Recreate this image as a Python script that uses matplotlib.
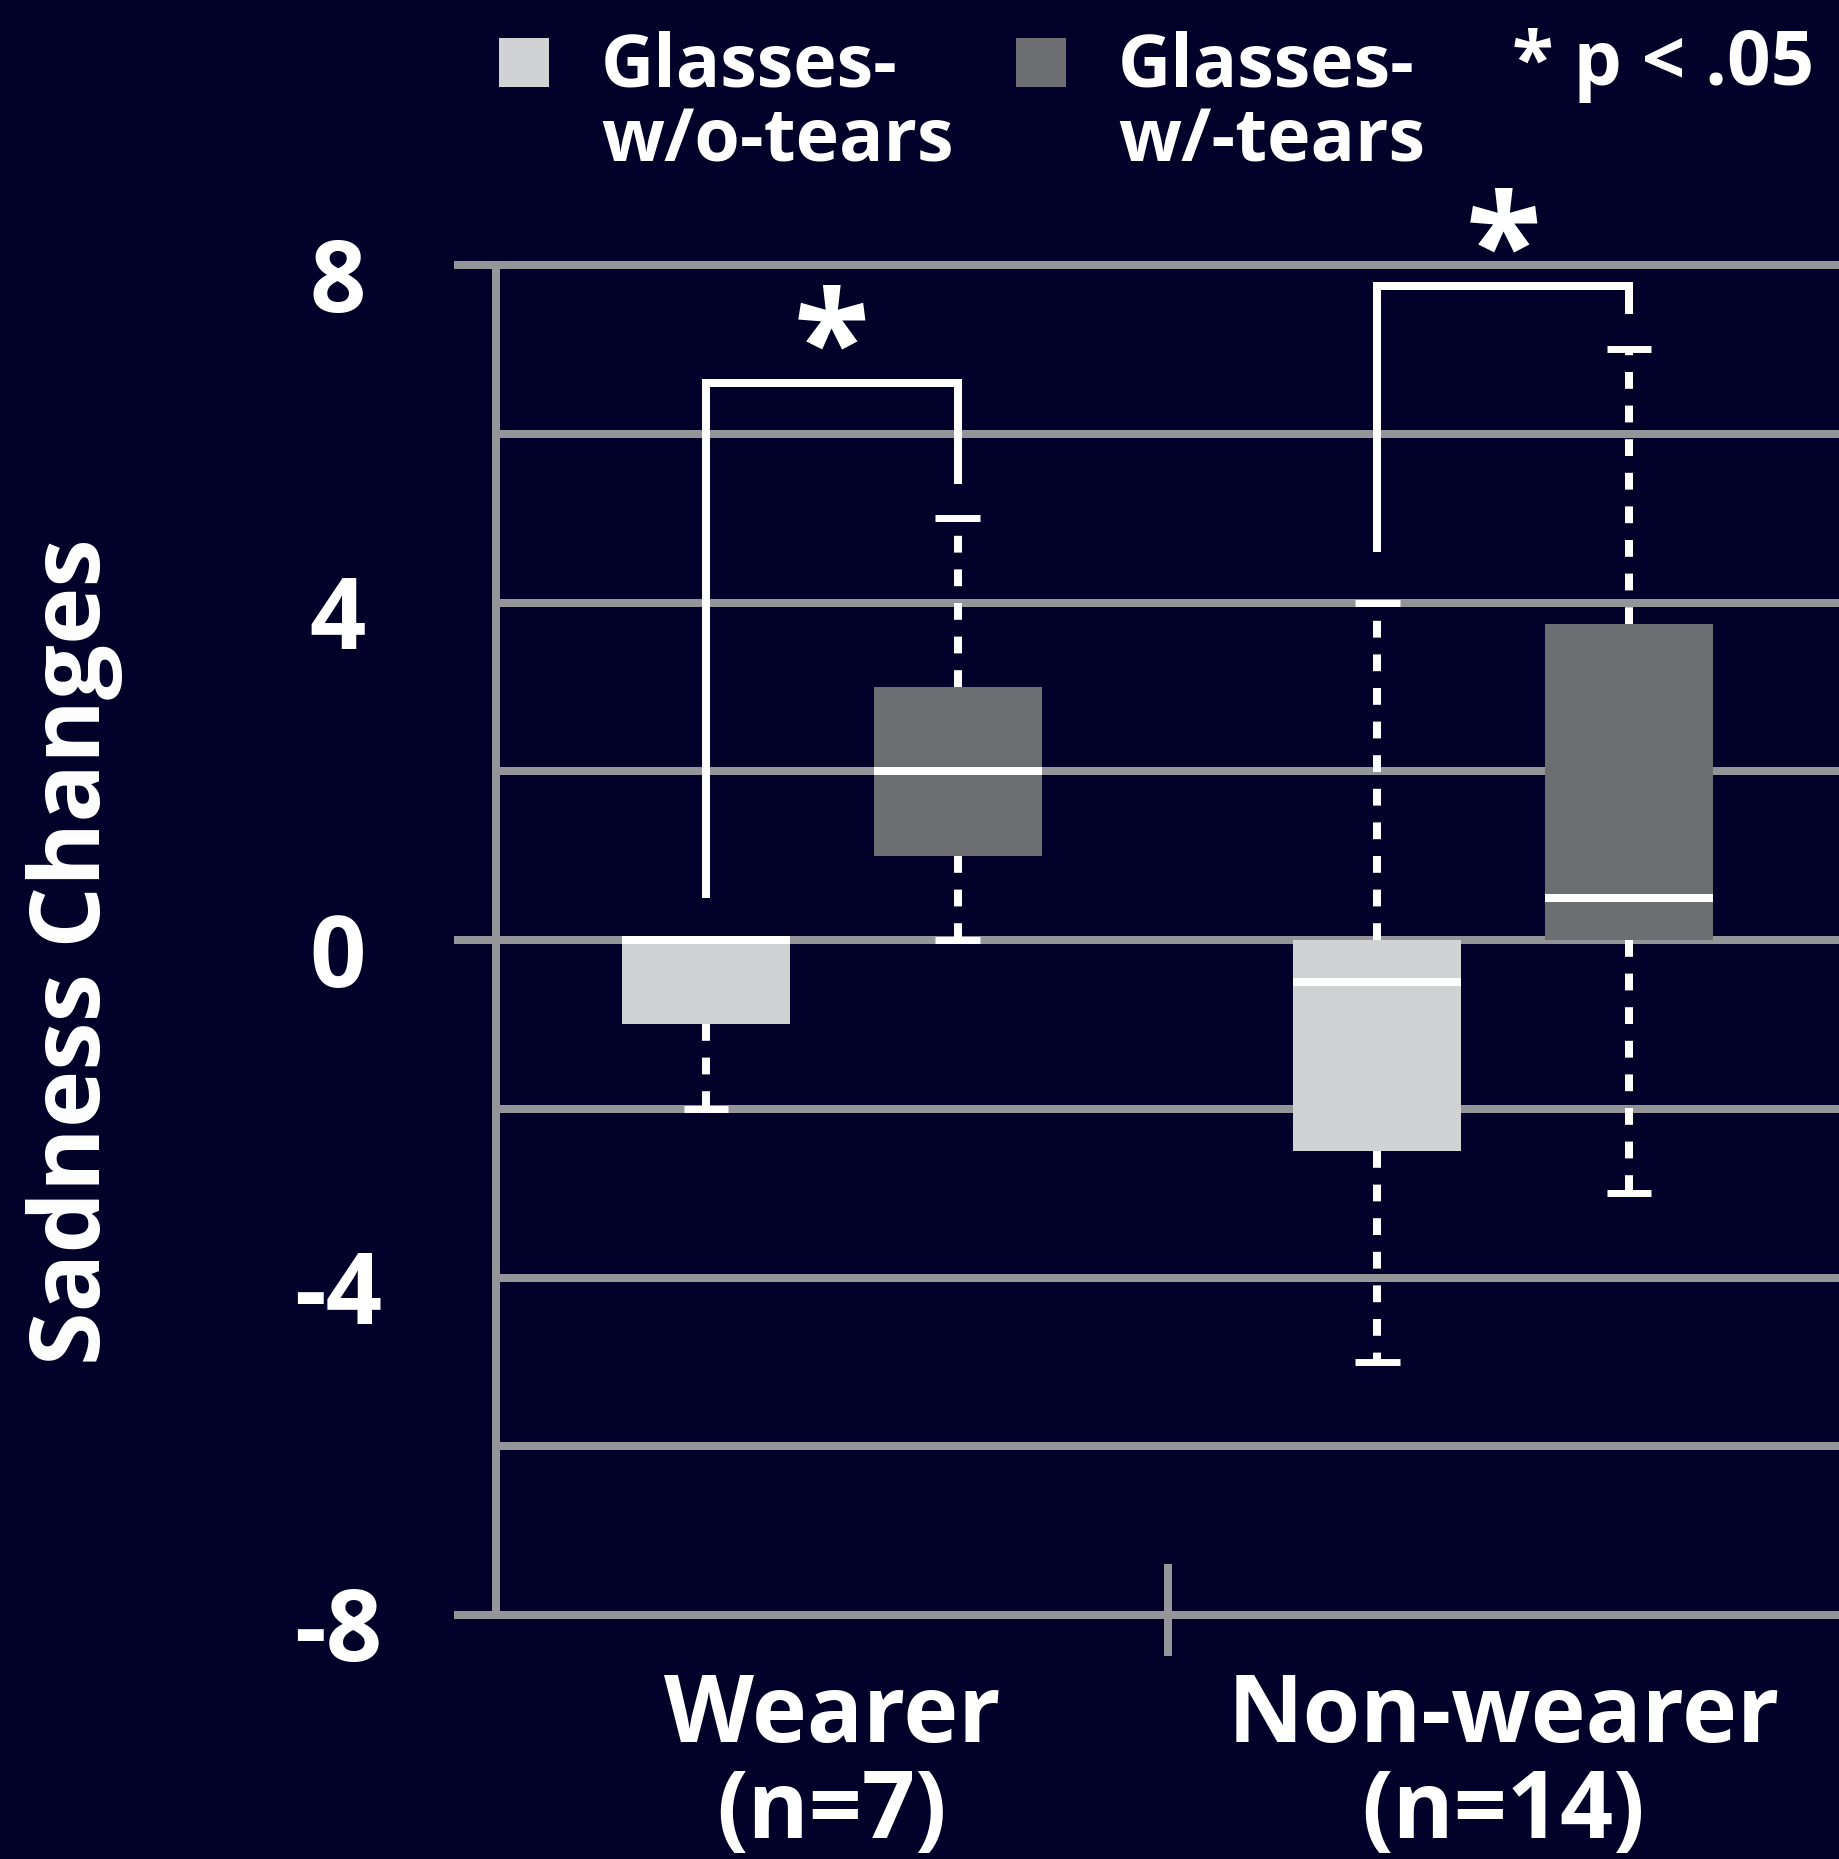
import matplotlib
matplotlib.use("Agg")
import matplotlib.pyplot as plt
import matplotlib.transforms as mtransforms
from matplotlib.patches import Rectangle
import numpy as np

plt.rcParams['font.family'] = ['Open Sans', 'DejaVu Sans']
plt.rcParams['font.weight'] = 'bold'

BG = '#010129'
GRID = '#939598'
LIGHT = '#d1d2d4'
DARK = '#6d6e71'

# data
groups = ["Wearer\n(n=7)", "Non-wearer\n(n=14)"]
series = ["Glasses-\nw/o-tears", "Glasses-\nw/-tears"]
q1 = [[-1.0, 1.0], [-2.5, 0.0]]
med = [[0.0, 2.0], [-0.5, 0.5]]
q3 = [[0.0, 3.0], [0.0, 3.75]]
whislo = [[-2.0, 0.0], [-5.0, -3.0]]
whishi = [[0.0, 5.0], [4.0, 7.0]]
# significance brackets: (left leg bottom, top, right leg bottom, star y)
brackets = [(0.5, 6.6, 5.4, 6.95), (4.6, 7.75, 7.42, 8.1)]
yticks = [8, 4, 0, -4, -8]
ygrid = [8, 6, 4, 2, 0, -2, -4, -6, -8]

W, H = 1839, 1859
fig = plt.figure(figsize=(W / 100, H / 100), dpi=100, facecolor=BG)
ax = fig.add_axes([496 / W, 1 - 1615 / H, (W - 496) / W, (1615 - 265) / H])
ax.set_facecolor(BG)
ax.set_xlim(0, 2)
ax.set_ylim(-8, 8)

lw = 5.76  # 8 px
for v in ygrid:
    ax.axhline(v, color=GRID, lw=lw, zorder=0.5, clip_on=False)

for s in ['top', 'right', 'bottom']:
    ax.spines[s].set_visible(False)
ax.spines['left'].set_color(GRID)
ax.spines['left'].set_linewidth(lw)

ax.yaxis.remove_overlapping_locs = False
ax.set_yticks(yticks)
ax.set_yticklabels([str(t) for t in yticks])
ax.set_yticks([8, 0, -8], minor=True)
ax.tick_params(axis='y', which='major', length=0, pad=114, labelsize=71,
               labelcolor='white')
ax.tick_params(axis='y', which='minor', length=30, width=lw, color=GRID,
               direction='out')
shift = mtransforms.ScaledTranslation(0, -9 / 100, fig.dpi_scale_trans)
for lab in ax.get_yticklabels():
    lab.set_horizontalalignment('center')
    lab.set_transform(lab.get_transform() + shift)

centers = np.array([0.5, 1.5])
offset = 0.1875
ax.set_xticks(centers)
ax.set_xticklabels(groups, linespacing=1.05)
ax.tick_params(axis='x', length=0, pad=40, labelsize=67, labelcolor='white')
# group divider
ax.axvline(1, ymin=-0.0274, ymax=0.0348, color=GRID, lw=lw, clip_on=False)

colors = [LIGHT, DARK]
dash = (0, (2.1, 2.1))
for gi, c in enumerate(centers):
    for si in range(2):
        st = dict(q1=q1[gi][si], med=med[gi][si], q3=q3[gi][si],
                  whislo=whislo[gi][si], whishi=whishi[gi][si], fliers=[])
        pos = c + (2 * si - 1) * offset
        ax.bxp([st], positions=[pos], widths=0.25, capwidths=0.066,
               patch_artist=True, showfliers=False, manage_ticks=False,
               boxprops=dict(facecolor=colors[si], edgecolor='none', lw=0),
               medianprops=dict(color='white', lw=lw, solid_capstyle='butt'),
               whiskerprops=dict(color='white', lw=lw, linestyle=dash,
                                 dash_capstyle='butt'),
               capprops=dict(color='white', lw=5.0, solid_capstyle='butt'),
               zorder=2)

# significance brackets
for gi, c in enumerate(centers):
    lo_l, top, lo_r, star_y = brackets[gi]
    xl, xr = c - offset, c + offset
    ax.plot([xl, xl, xr, xr], [lo_l, top, top, lo_r], color='white', lw=lw,
            solid_joinstyle='miter', solid_capstyle='butt', clip_on=False,
            zorder=3)
    ax.text(c, star_y, '*', color='white', fontsize=100, ha='center',
            va='center', clip_on=False, zorder=3)

# legend
for si in range(2):
    x0 = [499, 1016][si]
    fig.patches.append(Rectangle((x0 / W, 1 - 87 / H), 50 / W, 49 / H,
                                 transform=fig.transFigure,
                                 facecolor=colors[si], edgecolor='none'))
    fig.text([601, 1118][si] / W, 1 - 162 / H, series[si], color='white',
             fontsize=53, ha='left', va='baseline', linespacing=1.02)
fig.text(1512 / W, 1 - 85 / H, '* p < .05', color='white', fontsize=55,
         ha='left', va='baseline')

fig.text(75 / W, 1 - 952 / H, 'Sadness Changes', color='white', fontsize=70,
         rotation=90, ha='center', va='center')

fig.savefig('out.png', dpi=100, facecolor=BG)
